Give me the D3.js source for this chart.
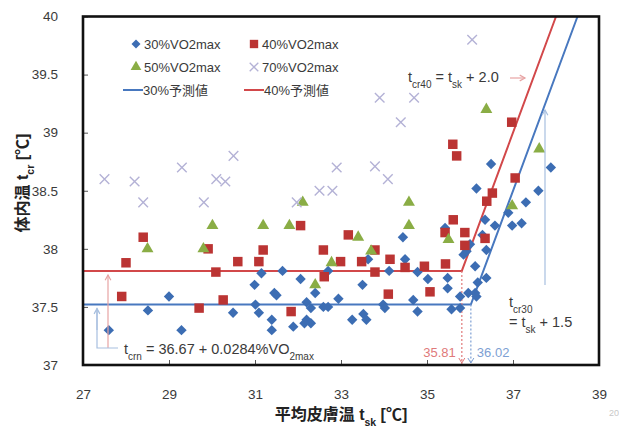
<!DOCTYPE html>
<html>
<head>
<meta charset="utf-8">
<script src="https://cdn.jsdelivr.net/npm/d3@7"></script>
<style>
  body { margin: 0; background: #fff; }
  svg { display: block; font-family: "Liberation Sans", Arial, "Noto Sans CJK JP", sans-serif; }
</style>
</head>
<body>
<div id="chart"></div>
<script>
// tsk (x), tcr (y) pairs
const vo30 = [
  [27.60,37.30],[28.51,37.47],[29.00,37.59],[29.29,37.30],[30.49,37.45],[30.99,37.69],
  [31.01,37.52],[31.09,37.45],[31.15,37.79],[31.39,37.39],[31.39,37.30],[31.45,37.62],
  [31.50,37.60],[31.64,37.81],[31.89,37.33],[32.06,37.74],[32.20,37.54],[32.30,37.49],
  [32.20,37.39],[32.30,37.36],[32.15,37.36],[32.40,37.62],[32.59,37.50],[32.70,37.50],
  [32.70,37.81],[32.94,37.57],[33.26,37.39],[33.50,37.69],[33.52,37.44],[33.59,37.39],
  [33.63,37.91],[33.98,37.52],[34.02,37.49],[34.12,37.81],[34.49,37.91],[34.44,38.10],
  [34.68,37.56],[34.78,37.46],[34.78,37.80],[35.02,37.74],[35.42,38.18],[35.48,37.75],
  [35.48,37.66],[35.57,37.48],[35.77,37.49],[35.77,37.59],[35.85,37.95],[35.92,37.98],
  [35.96,37.62],[36.00,38.04],[36.12,37.85],[36.12,37.62],[36.15,37.59],[36.18,37.71],
  [36.15,38.52],[36.29,38.12],[36.35,38.25],[36.38,37.99],[36.38,37.75],[36.49,38.73],
  [36.58,38.20],[36.89,38.31],[36.98,38.20],[37.20,38.22],[37.30,38.40],[37.59,38.50],
  [37.88,38.70]
];
const vo40 = [
  [27.90,37.59],[28.00,37.88],[28.40,38.10],[29.70,37.49],[29.91,38.00],[30.09,37.80],
  [30.26,37.56],[30.60,37.89],[31.09,37.89],[31.19,37.99],[31.84,37.46],[32.06,38.20],
  [32.59,37.99],[32.61,37.76],[32.99,37.89],[33.17,38.12],[33.48,37.89],[33.79,37.99],
  [33.79,37.80],[34.10,37.61],[34.14,37.91],[34.49,37.84],[34.94,37.85],[35.07,37.63],
  [35.42,38.14],[35.43,37.87],[35.60,38.90],[35.69,38.80],[35.61,38.25],[35.88,38.14],
  [35.88,38.03],[36.35,38.09],[36.39,38.41],[36.52,38.48],[36.97,39.09],[37.05,38.61]
];
const vo50 = [
  [28.50,38.00],[29.80,38.00],[30.01,38.20],[31.19,38.20],[31.80,38.20],[32.11,38.40],
  [32.40,37.69],[32.78,37.88],[33.40,38.10],[33.70,37.98],[34.58,38.40],[34.58,38.20],
  [35.50,38.08],[36.38,39.20],[36.98,38.37],[37.61,38.86]
];
const vo70 = [
  [27.50,38.60],[28.20,38.58],[28.40,38.40],[29.30,38.70],[29.81,38.40],[30.10,38.60],
  [30.31,38.58],[30.50,38.80],[31.97,38.40],[32.50,38.50],[32.80,38.50],[32.90,38.70],
  [33.79,38.71],[33.90,39.30],[34.09,38.60],[34.39,39.09],[34.70,39.30],[36.05,39.80]
];
// predicted values: plateau then tcr = tsk + c
const pred30 = [[27,37.52],[36.02,37.52],[38.5,40]];
const pred40 = [[27,37.81],[35.81,37.81],[38.0,40]];
const breakpoints = [{x: 35.81, y: 37.81, label: "35.81", s: "r"}, {x: 36.02, y: 37.52, label: "36.02", s: "b"}];

const xTicks = [27, 29, 31, 33, 35, 37, 39];
const yTicks = [37, 37.5, 38, 38.5, 39, 39.5, 40];

const W = 619, H = 430;
const C = {
  blue: "#3c6db3", red: "#bb3433", green: "#8aad45", lav: "#b4b2d6",
  blueLine: "#4878bf", redLine: "#d2484a", text: "#3a3a3a"
};

const x = d3.scaleLinear().domain([27, 39]).range([83, 599]);
const y = d3.scaleLinear().domain([37, 40]).range([365, 16.5]);

const svg = d3.select("#chart").append("svg").attr("width", W).attr("height", H);

svg.append("defs").append("clipPath").attr("id", "plot")
  .append("rect").attr("x", x(27)).attr("y", y(40)).attr("width", x(39) - x(27)).attr("height", y(37) - y(40));

// axes
const xAxis = svg.append("g").attr("transform", `translate(0,${y(37)})`)
  .call(d3.axisBottom(x).tickValues(xTicks).tickSize(-5).tickPadding(24).tickFormat(d3.format("d")));
const yAxis = svg.append("g").attr("transform", `translate(${x(27)},0)`)
  .call(d3.axisLeft(y).tickValues(yTicks).tickSize(-5).tickPadding(25).tickFormat(d => d));
[xAxis, yAxis].forEach(g => {
  g.select(".domain").remove();
  g.selectAll("line").attr("stroke", "#555");
  g.selectAll("text").attr("fill", C.text).style("font-size", "13.5px");
});

const plot = svg.append("g").attr("clip-path", "url(#plot)");
const line = d3.line().x(d => x(d[0])).y(d => y(d[1]));

// annotation arrows
function arrow(g, x1, y1, x2, y2, col) {
  g.append("line").attr("x1", x1).attr("y1", y1).attr("x2", x2).attr("y2", y2)
    .attr("stroke", col).attr("stroke-width", 1.2);
  const a = Math.atan2(y2 - y1, x2 - x1), L = 6;
  const p = [a - 0.5, a + 0.5].map(t => [x2 - L * Math.cos(t), y2 - L * Math.sin(t)]);
  g.append("path").attr("d", `M${p[0]}L${x2},${y2}L${p[1]}`)
    .attr("fill", "none").attr("stroke", col).attr("stroke-width", 1.2);
}

// dotted drops at the break points
breakpoints.forEach(b => {
  const col = b.s === "r" ? "#e07a7a" : "#7d9fd3";
  svg.append("line").attr("x1", x(b.x)).attr("x2", x(b.x)).attr("y1", y(b.y)).attr("y2", y(37) - 1)
    .attr("stroke", col).attr("stroke-width", 1.2).attr("stroke-dasharray", "2,2");
  svg.append("path").attr("d", `M${x(b.x) - 3},${y(37) - 7}L${x(b.x)},${y(37) - 2}L${x(b.x) + 3},${y(37) - 7}`)
    .attr("fill", "none").attr("stroke", col).attr("stroke-width", 1);
  svg.append("text").attr("x", b.s === "r" ? x(b.x) - 6 : x(b.x) + 6).attr("y", y(37) - 8)
    .attr("text-anchor", b.s === "r" ? "end" : "start")
    .attr("fill", col).style("font-size", "13px").text(b.label);
});

// prediction lines
plot.append("path").datum(pred30).attr("d", line).attr("fill", "none").attr("stroke", C.blueLine).attr("stroke-width", 2);
plot.append("path").datum(pred40).attr("d", line).attr("fill", "none").attr("stroke", C.redLine).attr("stroke-width", 2);

// markers
const diamond = r => `M0,${-r}L${r},0L0,${r}L${-r},0Z`;
const cross = r => `M${-r},${-r}L${r},${r}M${-r},${r}L${r},${-r}`;
const sq = d3.symbol(d3.symbolSquare, 90)();
const tri = d3.symbol(d3.symbolTriangle, 62)();

const mk = (data, path, attrs) => {
  const s = svg.append("g").selectAll("path").data(data).join("path")
    .attr("d", path).attr("transform", d => `translate(${x(d[0])},${y(d[1])})`);
  Object.entries(attrs).forEach(([k, v]) => s.attr(k, v));
};
mk(vo30, diamond(5.2), {fill: C.blue});
mk(vo40, sq, {fill: C.red});
mk(vo50, tri, {fill: C.green});
mk(vo70, cross(4.8), {fill: "none", stroke: C.lav, "stroke-width": 1.4});

// frame
svg.append("rect").attr("x", x(27)).attr("y", y(40)).attr("width", x(39) - x(27)).attr("height", y(37) - y(40))
  .attr("fill", "none").attr("stroke", "#111").attr("stroke-width", 2.6);

// legend
const legend = svg.append("g").style("font-size", "13px").attr("fill", C.text);
const legItems = [
  {lx: 136, ly: 44, kind: "d", label: "30%VO2max"},
  {lx: 254, ly: 44, kind: "s", label: "40%VO2max"},
  {lx: 136, ly: 67, kind: "t", label: "50%VO2max"},
  {lx: 254, ly: 67, kind: "x", label: "70%VO2max"},
  {lx: 133, ly: 90, kind: "lb", label: "30%予測値"},
  {lx: 254, ly: 90, kind: "lr", label: "40%予測値"}
];
legItems.forEach(it => {
  const g = legend.append("g").attr("transform", `translate(${it.lx},${it.ly})`);
  if (it.kind === "d") g.append("path").attr("d", diamond(4.5)).attr("fill", C.blue);
  if (it.kind === "s") g.append("path").attr("d", d3.symbol(d3.symbolSquare, 70)()).attr("fill", C.red);
  if (it.kind === "t") g.append("path").attr("d", d3.symbol(d3.symbolTriangle, 50)()).attr("fill", C.green);
  if (it.kind === "x") g.append("path").attr("d", cross(4.3)).attr("stroke", C.lav).attr("stroke-width", 1.3);
  if (it.kind === "lb" || it.kind === "lr")
    g.append("line").attr("x1", -10).attr("x2", 10).attr("stroke", it.kind === "lb" ? C.blueLine : C.redLine).attr("stroke-width", 2);
  g.append("text").attr("x", it.kind[0] === "l" ? 10 : 8).attr("dy", "0.36em").text(it.label);
});

// rich text helper: parts [text, sub?]
function rich(t, parts, subSize) {
  parts.forEach(p => {
    const s = t.append("tspan").text(p[0]);
    if (p[1]) s.attr("baseline-shift", "sub").style("font-size", subSize);
  });
  return t;
}

// tcrn formula + arrows to the plateaus
arrow(svg, 108, 348, 108, y(37.81) + 4, "#e7a3a3");
svg.append("path").attr("d", `M118,348H97V${y(37.52) + 4}`).attr("fill", "none").attr("stroke", "#a7bfdf").attr("stroke-width", 1.2);
arrow(svg, 97, 330, 97, y(37.52) + 4, "#a7bfdf");
rich(svg.append("text").attr("x", 124).attr("y", 354).attr("fill", C.text).style("font-size", "14.5px"),
  [["t"], ["crn", 1], [" = 36.67 + 0.0284%VO"], ["2max", 1]], "10px");

// tcr40 label
rich(svg.append("text").attr("x", 408).attr("y", 82).attr("fill", C.text).style("font-size", "14.5px"),
  [["t"], ["cr40", 1], [" = t"], ["sk", 1], [" + 2.0"]], "10px");
arrow(svg, 510, 78, 525, 78, "#e7a3a3");

// tcr30 label
arrow(svg, 545, 285, 545, 110, "#a7bfdf");
rich(svg.append("text").attr("x", 509).attr("y", 307).attr("fill", C.text).style("font-size", "14.5px"),
  [["t"], ["cr30", 1]], "10px");
rich(svg.append("text").attr("x", 509).attr("y", 327).attr("fill", C.text).style("font-size", "14.5px"),
  [["= t"], ["sk", 1], [" + 1.5"]], "10px");

// axis titles
rich(svg.append("text").attr("x", 341).attr("y", 420).attr("text-anchor", "middle")
  .attr("fill", "#222").style("font-size", "16px").style("font-weight", "bold"),
  [["平均皮膚温 t"], ["sk", 1], [" [℃]"]], "10.5px");
rich(svg.append("text").attr("transform", "translate(28,183) rotate(-90)").attr("text-anchor", "middle")
  .attr("fill", "#222").style("font-size", "16px").style("font-weight", "bold"),
  [["体内温 t"], ["cr", 1], [" [℃]"]], "10.5px");

svg.append("text").attr("x", 609).attr("y", 416).attr("fill", "#c8c8c8").style("font-size", "9px").text("20");
</script>
</body>
</html>
